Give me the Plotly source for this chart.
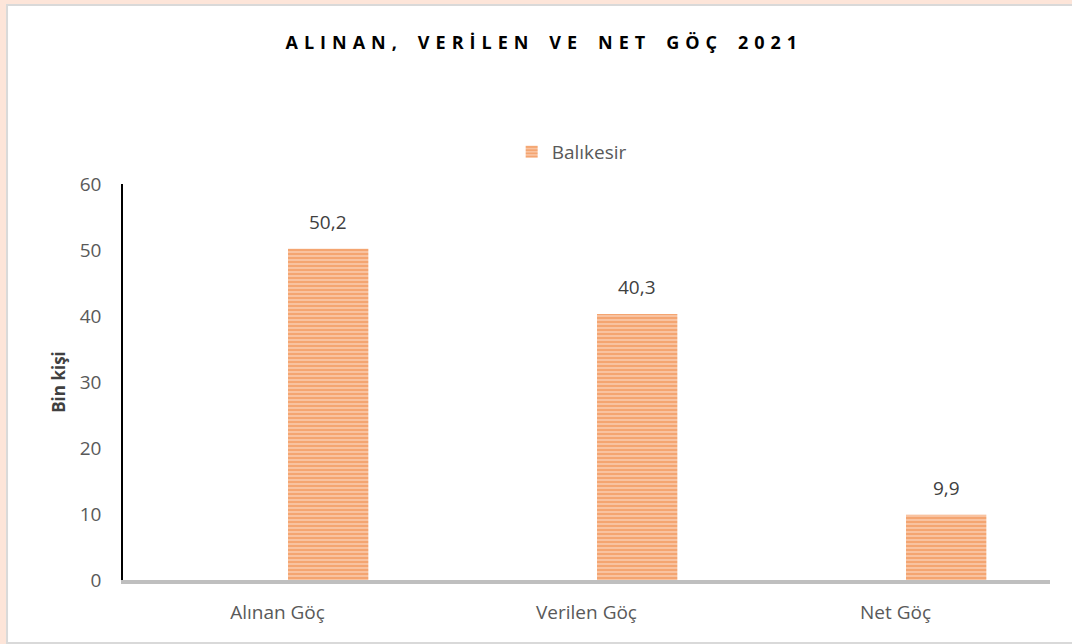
import plotly.graph_objects as go

categories = ["Alınan Göç", "Verilen Göç", "Net Göç"]
values = [50.2, 40.3, 9.9]
series_name = "Balıkesir"
y_ticks = [0, 10, 20, 30, 40, 50, 60]

title_text = "ALINAN, VERİLEN VE NET GÖÇ 2021"
# spread letters like the original's expanded character spacing
spaced_title = "\u2003\u2009".join("\u2004".join(word) for word in title_text.split(" "))

# bar sits right of the category centre (Excel cluster slot)
bar_offset = 0.034
bar_width = 0.26

fig = go.Figure()

fig.add_trace(
    go.Bar(
        x=categories,
        y=values,
        name=series_name,
        offset=bar_offset,
        width=bar_width,
        marker=dict(
            color="#F3A46F",
            line=dict(width=0),
            pattern=dict(
                shape="-",
                fgcolor="#EE7424",
                bgcolor="#FBD6BE",
                size=4,
                solidity=0.7,
            ),
        ),
        showlegend=True,
    )
)

# value labels sit a little above each bar, as in the original
for i, val in enumerate(values):
    fig.add_annotation(
        x=i + bar_offset + bar_width / 2,
        y=val,
        text=f"{val:.1f}".replace(".", ","),
        showarrow=False,
        yanchor="bottom",
        yshift=12,
        font=dict(size=19, color="#404040"),
    )

fig.update_layout(
    width=1072,
    height=644,
    paper_bgcolor="#FDE5D9",
    plot_bgcolor="rgba(0,0,0,0)",
    font=dict(family="Open Sans, Calibri, sans-serif", color="#595959"),
    margin=dict(l=123, r=22, t=184, b=64),
    separators=",.",
    title=dict(
        text=f"<b>{spaced_title}</b>",
        x=0.505,
        xanchor="center",
        y=1 - 43 / 644,
        yanchor="middle",
        font=dict(size=18, color="#000000"),
    ),
    showlegend=True,
    legend=dict(
        orientation="h",
        x=0.484,
        xanchor="center",
        y=1.081,
        yanchor="middle",
        font=dict(size=19, color="#595959"),
        bgcolor="rgba(0,0,0,0)",
    ),
    shapes=[
        dict(
            type="rect",
            xref="paper",
            yref="paper",
            x0=-0.1251,
            x1=1.03,
            y0=-0.159,
            y1=1.452,
            fillcolor="white",
            line=dict(color="#D9D9D9", width=2),
            layer="below",
        )
    ],
)

fig.update_xaxes(
    showline=True,
    linecolor="#BFBFBF",
    linewidth=4,
    showgrid=False,
    ticks="",
    tickfont=dict(size=19, color="#595959"),
    ticklabelstandoff=12,
)

fig.update_yaxes(
    range=[0, 60],
    tickvals=y_ticks,
    showline=True,
    linecolor="#000000",
    linewidth=1.5,
    showgrid=False,
    zeroline=False,
    ticks="",
    tickfont=dict(size=19, color="#595959"),
    ticklabelstandoff=16,
    title=dict(text="<b>Bin kişi</b>", font=dict(size=17, color="#404040"), standoff=10),
)

fig.write_html(
    "out.html",
    config={"displayModeBar": False},
    post_script="document.body.style.margin='0';",
)
